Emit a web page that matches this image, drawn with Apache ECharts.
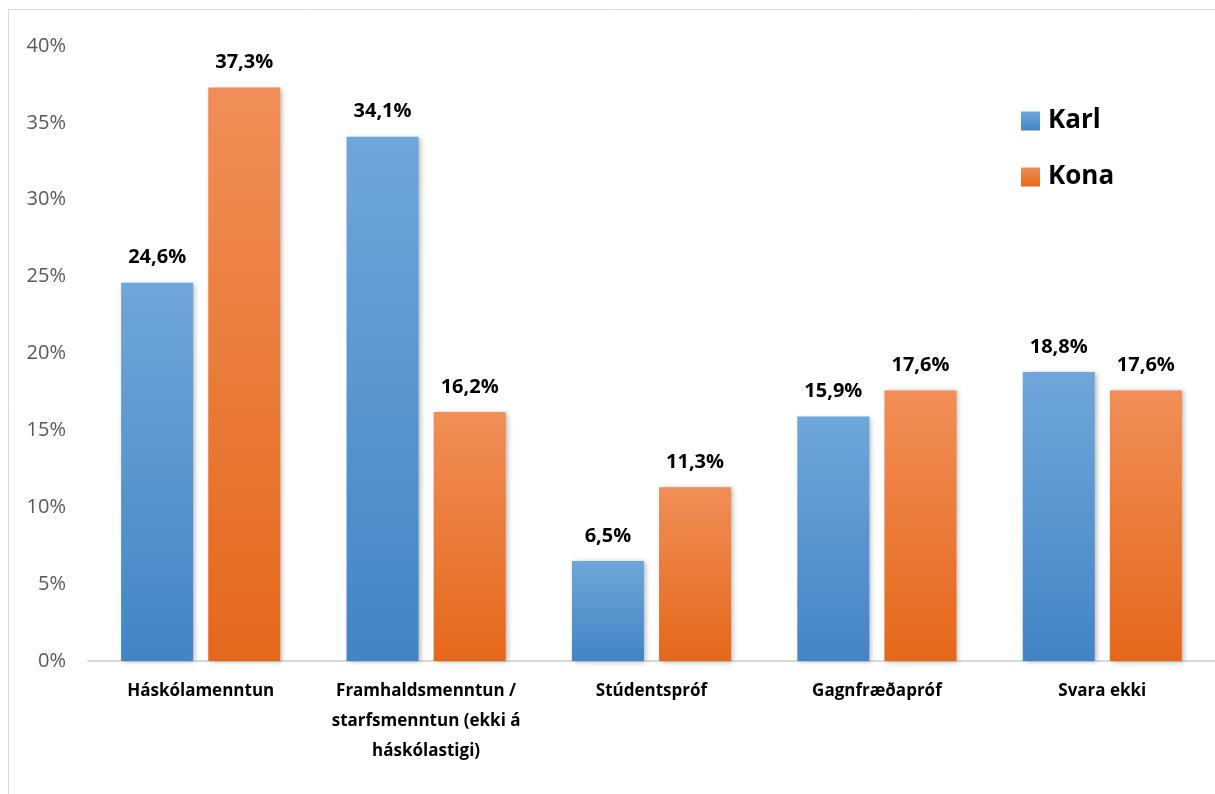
<!DOCTYPE html>
<html>
<head>
<meta charset="utf-8">
<script src="https://cdn.jsdelivr.net/npm/echarts@6/dist/echarts.min.js"></script>
<style>
html,body{margin:0;padding:0;background:#fff;}
#chart{width:1215px;height:794px;}
</style>
</head>
<body>
<div id="chart"></div>
<script>
const categories = ['Háskólamenntun', 'Framhaldsmenntun /\nstarfsmenntun (ekki á\nháskólastigi)', 'Stúdentspróf', 'Gagnfræðapróf', 'Svara ekki'];
const karl = [24.6, 34.1, 6.5, 15.9, 18.8];
const kona = [37.3, 16.2, 11.3, 17.6, 17.6];
const seriesNames = ['Karl', 'Kona'];
const yTicks = [0, 5, 10, 15, 20, 25, 30, 35, 40];

const FONT = '"Open Sans", "Noto Sans", sans-serif';
const chart = echarts.init(document.getElementById('chart'));

function grad(top, bottom) {
  return new echarts.graphic.LinearGradient(0, 0, 0, 1, [
    { offset: 0, color: top },
    { offset: 1, color: bottom }
  ]);
}

const labelCfg = {
  show: true,
  position: 'top',
  distance: 15,
  fontFamily: FONT,
  fontWeight: 'bold',
  fontSize: 20,
  color: '#000',
  formatter: p => p.value.toFixed(1).replace('.', ',') + '%'
};

chart.setOption({
  animation: false,
  backgroundColor: '#fff',
  graphic: [{
    type: 'rect',
    shape: { x: 8.5, y: 9.5, width: 1300, height: 900 },
    style: { fill: 'none', stroke: '#d9d9d9', lineWidth: 1 },
    silent: true,
    z: -10
  }],
  grid: { left: 88, right: -3, top: 46, bottom: 133 },
  legend: {
    orient: 'vertical',
    left: 1021,
    top: 108,
    padding: 0,
    itemWidth: 19,
    itemHeight: 19,
    itemGap: 30,
    icon: 'rect',
    textStyle: { fontFamily: FONT, fontWeight: 'bold', fontSize: 26, lineHeight: 24, color: '#000', padding: [0, 0, 0, 3] },
    data: seriesNames
  },
  xAxis: {
    type: 'category',
    data: categories,
    axisLine: { lineStyle: { color: '#d9d9d9', width: 2 } },
    axisTick: { show: false },
    axisLabel: {
      interval: 0,
      margin: 15,
      fontFamily: FONT,
      fontWeight: 'bold',
      fontSize: 17,
      lineHeight: 30,
      color: '#000'
    }
  },
  yAxis: {
    type: 'value',
    min: 0,
    max: 40,
    interval: 5,
    splitLine: { show: false },
    axisLine: { show: false },
    axisTick: { show: false },
    axisLabel: {
      margin: 22,
      fontFamily: FONT,
      fontSize: 20,
      color: '#595959',
      formatter: v => yTicks.includes(v) ? v + '%' : ''
    }
  },
  series: [
    {
      name: seriesNames[0],
      type: 'bar',
      data: karl,
      barWidth: 72,
      barGap: '21%',
      itemStyle: {
        color: grad('#6fa6db', '#4285c5'),
        shadowBlur: 5,
        shadowOffsetX: 2,
        shadowOffsetY: 1,
        shadowColor: 'rgba(0,0,0,0.3)'
      },
      label: labelCfg
    },
    {
      name: seriesNames[1],
      type: 'bar',
      data: kona,
      barWidth: 72,
      barGap: '21%',
      itemStyle: {
        color: grad('#f18e57', '#e4681a'),
        shadowBlur: 5,
        shadowOffsetX: 2,
        shadowOffsetY: 1,
        shadowColor: 'rgba(0,0,0,0.3)'
      },
      label: labelCfg
    }
  ]
});
</script>
</body>
</html>
